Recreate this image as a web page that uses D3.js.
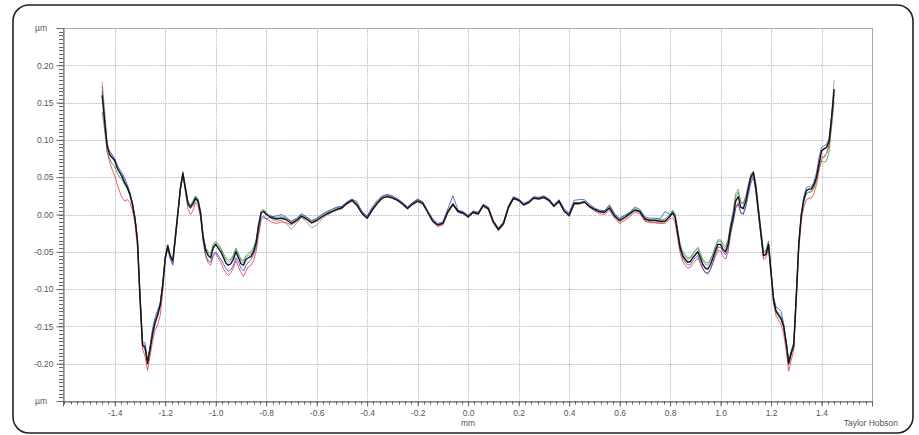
<!DOCTYPE html>
<html><head><meta charset="utf-8">
<script src="https://cdn.jsdelivr.net/npm/d3@7"></script>
<style>body{margin:0;background:#fff;} text{font-family:"Liberation Sans",Arial,sans-serif;}</style>
</head><body>
<svg id="c" width="919" height="435"></svg>
<script>
// sample positions (mm)
const xs = [
-1.45,-1.44,-1.43,-1.42,-1.41,-1.40,-1.39,-1.38,-1.37,-1.36,-1.35,-1.34,-1.33,-1.32,-1.31,-1.30,-1.29,-1.28,-1.27,-1.26,
-1.25,-1.24,-1.23,-1.22,-1.21,-1.20,-1.19,-1.18,-1.17,-1.16,-1.15,-1.14,-1.13,-1.12,-1.11,-1.10,-1.09,-1.08,-1.07,-1.06,
-1.05,-1.04,-1.03,-1.02,-1.01,-1.00,-0.99,-0.98,-0.97,-0.96,-0.95,-0.94,-0.93,-0.92,-0.91,-0.90,-0.89,-0.88,-0.87,-0.86,
-0.85,-0.84,-0.83,-0.82,-0.81,
-0.80,-0.78,-0.76,-0.74,-0.72,-0.70,-0.68,-0.66,-0.64,-0.62,-0.60,-0.58,-0.56,-0.54,-0.52,-0.50,-0.48,-0.46,-0.44,-0.42,
-0.40,-0.38,-0.36,-0.34,-0.32,-0.30,-0.28,-0.26,-0.24,-0.22,-0.20,-0.18,-0.16,-0.14,-0.12,-0.10,-0.08,-0.06,-0.04,-0.02,
0.00,0.02,0.04,0.06,0.08,0.10,0.12,0.14,0.16,0.18,0.20,0.22,0.24,0.26,0.28,0.30,0.32,0.34,0.36,0.38,
0.40,0.42,0.44,0.46,0.48,0.50,0.52,0.54,0.56,0.58,0.60,0.62,0.64,0.66,0.68,0.70,0.72,0.74,0.76,0.78,0.80,
0.81,0.82,0.83,0.84,0.85,0.86,0.87,0.88,0.89,0.90,0.91,0.92,0.93,0.94,0.95,0.96,0.97,0.98,0.99,1.00,
1.01,1.02,1.03,1.04,1.05,1.06,1.07,1.08,1.09,1.10,1.11,1.12,1.13,1.14,1.15,1.16,1.17,1.18,1.19,1.20,
1.21,1.22,1.23,1.24,1.25,1.26,1.27,1.28,1.29,1.30,1.31,1.32,1.33,1.34,1.35,1.36,1.37,1.38,1.39,1.40,
1.41,1.42,1.43,1.44,1.45
];

// profile heights (µm)
const profileBlack = [
0.160,0.125,0.092,0.080,0.076,0.072,0.062,0.056,0.050,0.042,0.036,0.027,0.014,-0.005,-0.035,-0.110,-0.175,-0.178,-0.200,-0.180,
-0.160,-0.145,-0.135,-0.122,-0.095,-0.058,-0.042,-0.056,-0.062,-0.030,0.002,0.035,0.055,0.035,0.015,0.010,0.015,0.022,0.018,0.002,
-0.030,-0.048,-0.055,-0.058,-0.045,-0.040,-0.045,-0.050,-0.057,-0.065,-0.068,-0.066,-0.060,-0.050,-0.058,-0.066,-0.068,-0.060,-0.058,-0.056,
-0.050,-0.038,-0.015,0.002,0.004,
0.000,-0.004,-0.006,-0.005,-0.007,-0.012,-0.008,-0.002,-0.006,-0.011,-0.008,-0.003,0.001,0.004,0.007,0.009,0.015,0.019,0.012,0.001,
-0.005,0.006,0.015,0.022,0.024,0.022,0.019,0.014,0.008,0.014,0.018,0.015,0.003,-0.009,-0.014,-0.012,0.004,0.014,0.004,0.002,
-0.003,0.003,0.001,0.012,0.008,-0.010,-0.020,-0.012,0.010,0.022,0.019,0.013,0.016,0.022,0.021,0.023,0.019,0.011,0.018,0.005,
-0.001,0.015,0.015,0.017,0.011,0.007,0.004,0.003,0.009,-0.002,-0.008,-0.004,0.001,0.006,0.004,-0.006,-0.008,-0.008,-0.009,-0.009,-0.002,
0.002,-0.004,-0.025,-0.045,-0.055,-0.060,-0.064,-0.063,-0.058,-0.054,-0.050,-0.058,-0.067,-0.072,-0.073,-0.067,-0.058,-0.048,-0.040,-0.040,
-0.047,-0.050,-0.040,-0.018,-0.003,0.018,0.024,0.010,0.008,0.018,0.035,0.050,0.056,0.036,0.005,-0.025,-0.055,-0.053,-0.040,-0.078,
-0.115,-0.130,-0.135,-0.140,-0.150,-0.172,-0.200,-0.186,-0.176,-0.110,-0.040,0.000,0.020,0.032,0.034,0.034,0.040,0.050,0.068,0.085,
0.088,0.090,0.098,0.130,0.168
];

const profileRed = [
0.172,0.118,0.085,0.070,0.060,0.052,0.040,0.030,0.022,0.018,0.020,0.016,0.006,-0.012,-0.045,-0.120,-0.180,-0.190,-0.209,-0.190,
-0.170,-0.155,-0.148,-0.135,-0.105,-0.062,-0.045,-0.058,-0.066,-0.036,-0.002,0.032,0.054,0.030,0.008,0.000,0.005,0.016,0.012,-0.004,
-0.036,-0.056,-0.065,-0.068,-0.056,-0.052,-0.058,-0.064,-0.072,-0.078,-0.082,-0.078,-0.072,-0.062,-0.070,-0.078,-0.083,-0.076,-0.070,-0.068,
-0.062,-0.050,-0.028,-0.008,-0.004,
-0.006,-0.010,-0.012,-0.010,-0.011,-0.014,-0.010,-0.004,-0.007,-0.012,-0.009,-0.004,0.000,0.003,0.006,0.008,0.014,0.018,0.013,0.002,
-0.004,0.008,0.017,0.024,0.026,0.024,0.021,0.016,0.010,0.016,0.021,0.017,0.004,-0.010,-0.016,-0.014,0.002,0.012,0.003,0.001,
-0.004,0.002,0.000,0.011,0.006,-0.012,-0.022,-0.014,0.008,0.021,0.020,0.014,0.017,0.023,0.022,0.024,0.020,0.012,0.016,0.004,
-0.003,0.013,0.014,0.016,0.010,0.005,0.001,0.000,0.006,-0.005,-0.012,-0.008,-0.003,0.003,0.001,-0.009,-0.011,-0.011,-0.012,-0.012,-0.006,
-0.004,-0.010,-0.032,-0.052,-0.063,-0.068,-0.072,-0.071,-0.066,-0.062,-0.058,-0.066,-0.074,-0.078,-0.078,-0.073,-0.065,-0.056,-0.048,-0.049,
-0.056,-0.060,-0.050,-0.026,-0.010,0.010,0.016,0.003,0.001,0.012,0.030,0.046,0.054,0.032,0.000,-0.030,-0.060,-0.058,-0.046,-0.082,
-0.120,-0.136,-0.142,-0.148,-0.160,-0.182,-0.210,-0.195,-0.182,-0.118,-0.048,-0.008,0.010,0.020,0.022,0.022,0.028,0.040,0.058,0.074,
0.078,0.082,0.092,0.122,0.160
];

const profileBlue = [
0.165,0.130,0.090,0.085,0.080,0.075,0.066,0.060,0.055,0.048,0.040,0.030,0.016,-0.004,-0.032,-0.105,-0.170,-0.172,-0.196,-0.176,
-0.152,-0.138,-0.128,-0.118,-0.092,-0.060,-0.046,-0.060,-0.068,-0.034,-0.001,0.033,0.052,0.032,0.012,0.008,0.012,0.020,0.015,-0.002,
-0.034,-0.054,-0.062,-0.064,-0.054,-0.050,-0.055,-0.060,-0.066,-0.072,-0.076,-0.074,-0.068,-0.058,-0.064,-0.072,-0.076,-0.068,-0.064,-0.060,
-0.054,-0.044,-0.022,-0.004,-0.002,
-0.006,-0.003,-0.002,0.000,-0.004,-0.009,-0.005,0.001,-0.003,-0.008,-0.005,0.000,0.004,0.007,0.010,0.011,0.017,0.021,0.015,0.004,
-0.002,0.010,0.019,0.025,0.027,0.025,0.021,0.016,0.010,0.016,0.020,0.017,0.005,-0.006,-0.012,-0.010,0.008,0.025,0.006,0.004,
-0.001,0.005,0.003,0.014,0.010,-0.008,-0.018,-0.010,0.012,0.024,0.021,0.015,0.018,0.024,0.023,0.025,0.021,0.013,0.020,0.008,
0.002,0.019,0.020,0.020,0.014,0.009,0.006,0.005,0.013,0.001,-0.005,-0.001,0.003,0.010,0.007,-0.003,-0.005,-0.005,-0.006,0.004,0.000,
0.004,-0.002,-0.024,-0.046,-0.058,-0.064,-0.068,-0.067,-0.062,-0.058,-0.055,-0.063,-0.072,-0.078,-0.080,-0.074,-0.064,-0.052,-0.044,-0.044,
-0.050,-0.054,-0.045,-0.024,-0.010,0.008,0.014,0.002,0.000,0.010,0.026,0.042,0.050,0.030,0.000,-0.028,-0.056,-0.054,-0.042,-0.076,
-0.110,-0.124,-0.126,-0.130,-0.146,-0.170,-0.198,-0.184,-0.172,-0.106,-0.036,0.002,0.024,0.036,0.038,0.036,0.044,0.056,0.076,0.090,
0.092,0.094,0.102,0.132,0.166
];

const profileGreen = [
0.138,0.112,0.084,0.074,0.068,0.064,0.055,0.050,0.046,0.040,0.034,0.025,0.012,-0.006,-0.036,-0.108,-0.172,-0.176,-0.198,-0.178,
-0.156,-0.142,-0.132,-0.120,-0.094,-0.057,-0.041,-0.055,-0.061,-0.030,0.003,0.036,0.056,0.036,0.016,0.012,0.017,0.024,0.020,0.004,
-0.028,-0.044,-0.050,-0.052,-0.040,-0.036,-0.040,-0.045,-0.052,-0.058,-0.061,-0.060,-0.054,-0.045,-0.052,-0.060,-0.062,-0.055,-0.052,-0.050,
-0.045,-0.034,-0.012,0.004,0.006,
0.002,-0.002,-0.004,-0.003,-0.005,-0.010,-0.006,0.000,-0.004,-0.009,-0.006,-0.001,0.003,0.006,0.009,0.011,0.016,0.020,0.014,0.003,
-0.003,0.007,0.016,0.023,0.025,0.023,0.020,0.015,0.009,0.015,0.019,0.016,0.004,-0.008,-0.013,-0.011,0.005,0.015,0.005,0.003,
-0.002,0.004,0.002,0.013,0.009,-0.009,-0.019,-0.011,0.011,0.023,0.020,0.014,0.017,0.023,0.022,0.024,0.020,0.012,0.019,0.006,
0.000,0.016,0.016,0.018,0.012,0.008,0.005,0.004,0.012,0.000,-0.006,-0.002,0.002,0.008,0.005,-0.005,-0.007,-0.007,-0.007,-0.006,0.000,
0.005,0.000,-0.020,-0.040,-0.050,-0.054,-0.058,-0.057,-0.052,-0.048,-0.044,-0.052,-0.060,-0.064,-0.065,-0.060,-0.052,-0.042,-0.034,-0.034,
-0.040,-0.043,-0.034,-0.012,0.003,0.024,0.030,0.016,0.014,0.024,0.040,0.054,0.058,0.040,0.010,-0.020,-0.050,-0.048,-0.036,-0.074,
-0.112,-0.128,-0.132,-0.137,-0.148,-0.170,-0.196,-0.182,-0.172,-0.106,-0.038,0.000,0.018,0.028,0.030,0.030,0.036,0.046,0.062,0.072,
0.070,0.072,0.084,0.118,0.152
];

const profileGrey = [
0.178,0.140,0.096,0.084,0.079,0.074,0.064,0.058,0.052,0.045,0.038,0.029,0.016,-0.003,-0.033,-0.108,-0.176,-0.182,-0.193,-0.182,
-0.162,-0.146,-0.134,-0.120,-0.093,-0.056,-0.040,-0.054,-0.060,-0.028,0.004,0.037,0.058,0.038,0.018,0.013,0.018,0.025,0.021,0.005,
-0.027,-0.046,-0.052,-0.055,-0.042,-0.038,-0.042,-0.047,-0.054,-0.061,-0.064,-0.062,-0.057,-0.047,-0.055,-0.062,-0.065,-0.057,-0.055,-0.053,
-0.047,-0.036,-0.013,0.005,0.007,
0.003,-0.006,-0.009,-0.008,-0.012,-0.020,-0.012,-0.004,-0.010,-0.018,-0.014,-0.006,-0.001,0.003,0.006,0.008,0.014,0.020,0.018,0.002,
-0.006,0.005,0.014,0.021,0.025,0.023,0.019,0.013,0.007,0.013,0.017,0.014,0.002,-0.010,-0.016,-0.013,0.003,0.013,0.003,0.001,
-0.004,0.002,0.000,0.011,0.007,-0.011,-0.021,-0.013,0.009,0.021,0.018,0.012,0.015,0.021,0.020,0.022,0.018,0.010,0.017,0.004,
-0.002,0.014,0.014,0.016,0.010,0.006,0.003,0.002,0.008,-0.003,-0.010,-0.006,-0.001,0.005,0.003,-0.008,-0.010,-0.011,-0.011,-0.010,-0.004,
0.006,0.001,-0.020,-0.040,-0.052,-0.056,-0.060,-0.059,-0.054,-0.050,-0.046,-0.054,-0.062,-0.067,-0.068,-0.062,-0.054,-0.044,-0.036,-0.036,
-0.043,-0.046,-0.036,-0.014,0.004,0.028,0.034,0.018,0.015,0.024,0.038,0.052,0.058,0.040,0.008,-0.022,-0.052,-0.050,-0.036,-0.074,
-0.114,-0.131,-0.137,-0.142,-0.152,-0.174,-0.194,-0.188,-0.176,-0.112,-0.042,-0.002,0.018,0.028,0.030,0.031,0.036,0.046,0.062,0.078,
0.076,0.082,0.094,0.132,0.180
];

const xTickValues = [-1.4,-1.2,-1.0,-0.8,-0.6,-0.4,-0.2,0.0,0.2,0.4,0.6,0.8,1.0,1.2,1.4];
const yTickValues = [0.20,0.15,0.10,0.05,0.00,-0.05,-0.10,-0.15,-0.20];
const xUnit = "mm", yUnit = "µm", brand = "Taylor Hobson";

const series = [
  {name:"grey",  values: profileGrey,  color:"#8c8c8c", w:0.8},
  {name:"green", values: profileGreen, color:"#2e9a3c", w:0.8},
  {name:"red",   values: profileRed,   color:"#e23a3a", w:0.8},
  {name:"blue",  values: profileBlue,  color:"#3346d6", w:0.8},
  {name:"black", values: profileBlack, color:"#141414", w:1.4}
];

const svg = d3.select("#c");
const L = 63, R = 872, T = 28, B = 401;
const x = d3.scaleLinear().domain([-1.605, 1.6]).range([L, R]);
const y = d3.scaleLinear().domain([-0.25, 0.25]).range([B, T]);

// frame
svg.append("rect").attr("x",13).attr("y",5).attr("width",900).attr("height",428)
  .attr("rx",16).attr("fill","none").attr("stroke","#222").attr("stroke-width",1.6);

// grid
const g = svg.append("g");
g.selectAll(".gx").data(xTickValues).join("line")
  .attr("x1",d=>Math.round(x(d))+0.5).attr("x2",d=>Math.round(x(d))+0.5).attr("y1",T).attr("y2",B)
  .attr("stroke","#b9c0cc").attr("stroke-width",1).attr("stroke-dasharray","1.5 1");
g.selectAll(".gy").data(yTickValues).join("line")
  .attr("y1",d=>Math.round(y(d))+0.5).attr("y2",d=>Math.round(y(d))+0.5).attr("x1",L).attr("x2",R)
  .attr("stroke","#b9c0cc").attr("stroke-width",1).attr("stroke-dasharray","1.5 1");

// plot border
svg.append("rect").attr("x",L+0.5).attr("y",T+0.5).attr("width",R-L).attr("height",B-T)
  .attr("fill","none").attr("stroke","#a8a8a8").attr("stroke-width",1);

// profiles
const clip = svg.append("clipPath").attr("id","pc").append("rect").attr("x",L).attr("y",T).attr("width",R-L).attr("height",B-T);
const line = d3.line().x((d,i)=>x(xs[i])).y(d=>y(d));
const lg = svg.append("g").attr("clip-path","url(#pc)");
series.forEach(s=>{
  lg.append("path").datum(s.values.slice(0, xs.length)).attr("d", line)
    .attr("fill","none").attr("stroke", s.color).attr("stroke-width", s.w).attr("stroke-linejoin","round");
});

// y axis
const yAxis = d3.axisLeft(y).tickValues(yTickValues).tickSize(7).tickPadding(3)
  .tickFormat(d=>d.toFixed(2).replace("\u2212","-"));
const ya = svg.append("g").attr("transform",`translate(${L+0.5},0)`).call(yAxis);
ya.select(".domain").attr("stroke","#666");
ya.selectAll(".tick line").attr("stroke","#666");
ya.selectAll("text").attr("fill","#555").style("font-size","8.5px").style("font-family","Liberation Sans, Arial, sans-serif");
// y minor
svg.append("g").selectAll("line").data(d3.range(-50,51).map(k=>k*0.005)).join("line")
  .attr("x1",L-4).attr("x2",L).attr("y1",d=>Math.round(y(d))+0.5).attr("y2",d=>Math.round(y(d))+0.5)
  .attr("stroke","#666").attr("stroke-width",1);

// x axis
const xAxis = d3.axisBottom(x).tickValues(xTickValues).tickSize(5).tickPadding(3)
  .tickFormat(d=>d.toFixed(1));
const xa = svg.append("g").attr("transform",`translate(0,${B+0.5})`).call(xAxis);
xa.select(".domain").attr("stroke","#666");
xa.selectAll(".tick line").attr("stroke","#666");
xa.selectAll("text").attr("fill","#555").style("font-size","8.5px").style("font-family","Liberation Sans, Arial, sans-serif");
svg.append("g").selectAll("line").data(d3.range(-64,65).map(k=>k*0.025).filter(v=>v>=-1.605&&v<=1.6)).join("line")
  .attr("x1",d=>Math.round(x(d))+0.5).attr("x2",d=>Math.round(x(d))+0.5).attr("y1",B).attr("y2",B+3.5)
  .attr("stroke","#666").attr("stroke-width",1);

// labels
const lab = (t,xx,yy,anchor)=>svg.append("text").text(t).attr("x",xx).attr("y",yy)
  .attr("text-anchor",anchor).attr("fill","#555").style("font-size","8.5px");
lab(yUnit, 35, 31, "start");
lab(yUnit, 35, 404, "start");
lab(xUnit, x(0), 426, "middle");
lab(brand, 898, 426, "end");
</script>
</body></html>
